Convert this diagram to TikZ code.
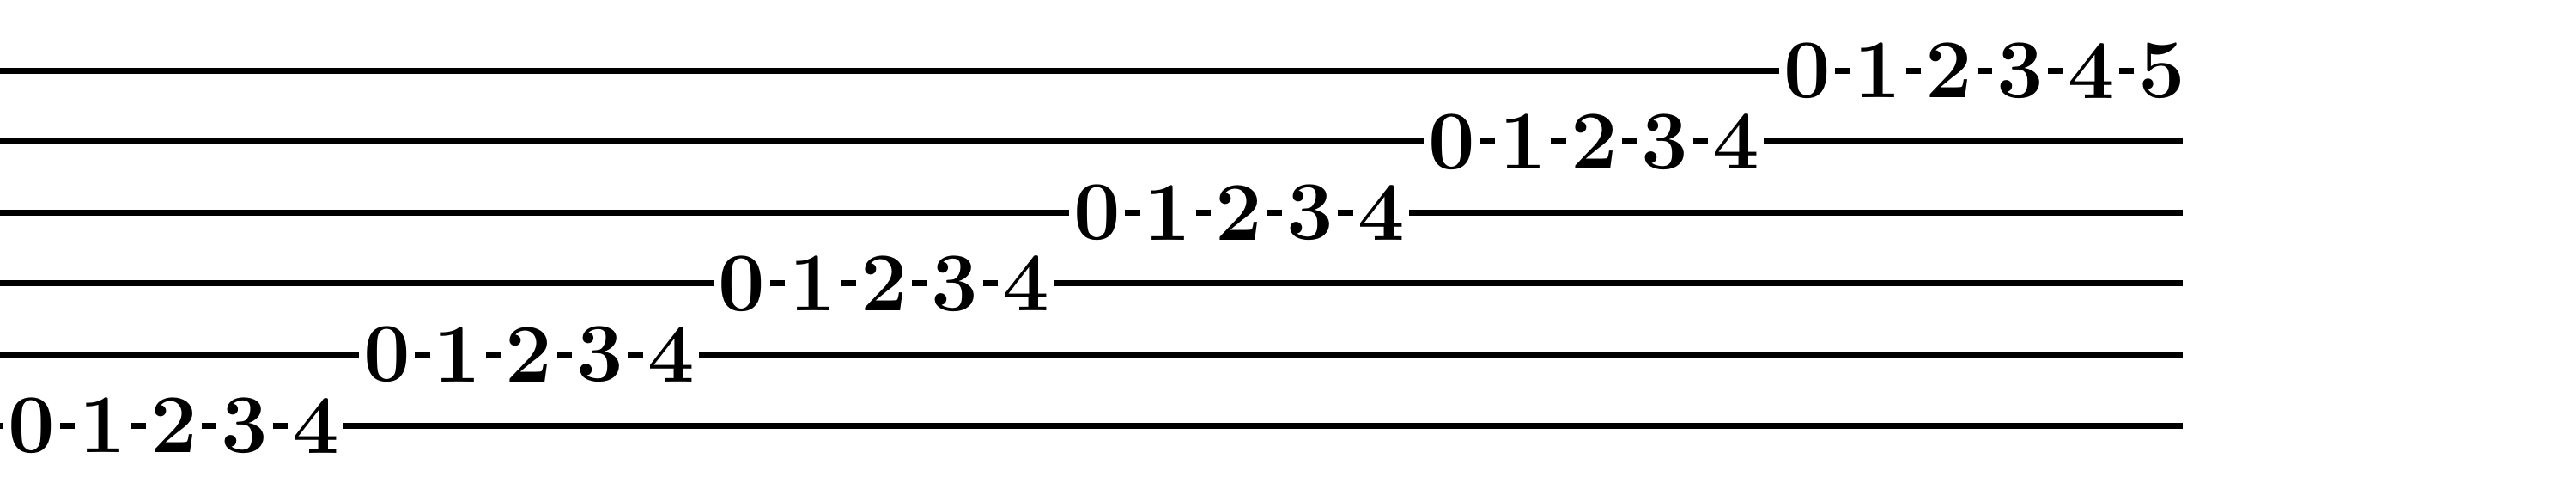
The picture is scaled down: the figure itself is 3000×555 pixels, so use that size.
\documentclass[tikz,border=0pt]{standalone}
\usepackage{fontspec}
\setmainfont{Latin Modern Roman}
\tikzset{x=0.2pt,y=0.2pt,
  fret/.style={inner sep=0.86pt, font=\fontsize{19.4}{20}\selectfont\bfseries},
  tabline/.style={line width=1.4pt, line cap=butt}}
\begin{document}
\begin{tikzpicture}
\useasboundingbox (0,0) rectangle (3000,555);
\foreach \i in {0,...,5} {
  \pgfmathsetmacro\yy{555-(82.2+82.6*\i)}
  \pgfmathtruncatemacro\r{5-\i}
  \pgfmathtruncatemacro\last{\i==0 ? 5 : 4}
  \coordinate (s\i) at (0,\yy);
  \coordinate (e\i) at (2542,\yy);
  \foreach \k in {0,...,\last} {
    \pgfmathsetmacro\xx{37+82.7*(5*\r+\k)}
    \node[fret] (n\i\k) at (\xx,\yy) {\k};
  }
  \draw[tabline] (s\i) -- (n\i0.west);
  \foreach \k [evaluate=\k as \kp using int(\k-1)] in {1,...,\last} {
    \draw[tabline] (n\i\kp.east) -- (n\i\k.west);
  }
  \ifnum\i>0
    \draw[tabline] (n\i\last.east) -- (e\i);
  \fi
}
\end{tikzpicture}
\end{document}
